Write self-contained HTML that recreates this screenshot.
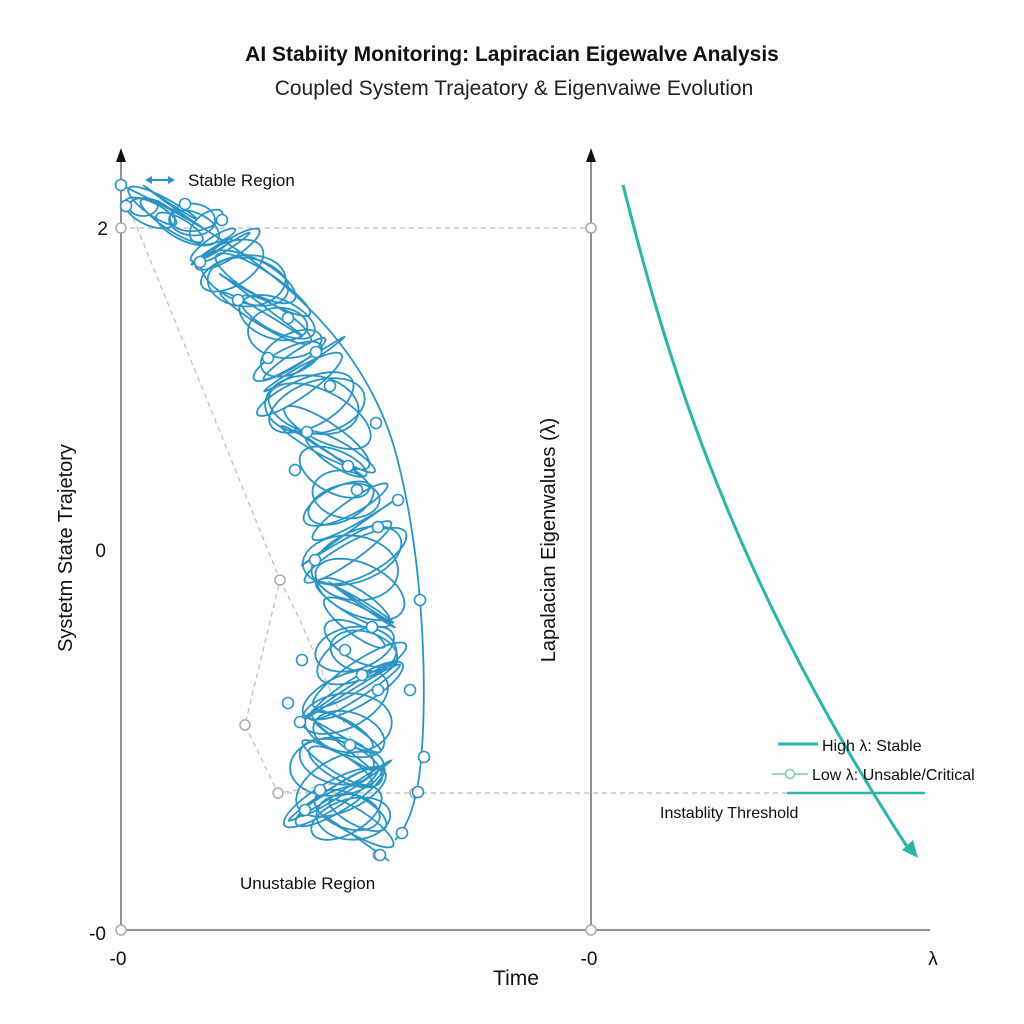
<!DOCTYPE html>
<html><head><meta charset="utf-8"><style>
body{margin:0;background:#fff;}
svg{display:block;font-family:"Liberation Sans",sans-serif;}
</style></head><body>
<svg id="s" width="1024" height="1024" viewBox="0 0 1024 1024">
<rect width="1024" height="1024" fill="#fdfdfd"/>
<text x="512" y="61" text-anchor="middle" font-size="21" font-weight="bold" fill="#111">AI Stabiity Monitoring: Lapiracian Eigewalve Analysis</text>
<text x="514" y="95" text-anchor="middle" font-size="21" fill="#222">Coupled System Trajeatory &amp; Eigenvaiwe Evolution</text>
<g stroke="#555" stroke-width="1.3">
<line x1="121" y1="160" x2="121" y2="930"/><line x1="121" y1="930" x2="591" y2="930"/>
<line x1="591" y1="160" x2="591" y2="930"/><line x1="591" y1="930" x2="930" y2="930"/>
</g>
<polygon points="116,162 121,148 126,162" fill="#111"/>
<polygon points="586,162 591,148 596,162" fill="#111"/>
<g stroke="#bbb" stroke-width="1.2" stroke-dasharray="5,4" fill="none">
<line x1="121" y1="228" x2="591" y2="228"/>
<polyline points="130,210 280,580 245,725 278,793 360,780"/>
<polyline points="280,580 300,620 360,760"/>
<line x1="278" y1="793" x2="790" y2="793"/>
</g>
<g fill="#fff" stroke="#aaa" stroke-width="1.5">
<circle cx="121" cy="228" r="5"/><circle cx="591" cy="228" r="5"/><circle cx="280" cy="580" r="5"/>
<circle cx="245" cy="725" r="5"/><circle cx="278" cy="793" r="5"/><circle cx="415" cy="793" r="5"/>
<circle cx="121" cy="930" r="5"/><circle cx="591" cy="930" r="5"/><circle cx="378" cy="855" r="5"/>
</g>
<g id="traj" fill="none" stroke="#2a95c5" stroke-width="1.8"></g>
<path d="M121,185 C260,250 360,330 395,450 C425,560 428,700 420,770 C415,810 405,830 395,840" fill="none" stroke="#2a95c5" stroke-width="1.8"/>
<g id="dots" fill="#fff" stroke="#2a95c5" stroke-width="1.6"></g>
<line x1="148" y1="180" x2="172" y2="180" stroke="#2a95c5" stroke-width="2"/>
<polygon points="145,180 152,176 152,184" fill="#2a95c5"/><polygon points="175,180 168,176 168,184" fill="#2a95c5"/>
<text x="188" y="186" font-size="17" fill="#111">Stable Region</text>
<text x="240" y="889" font-size="17" fill="#111">Unustable Region</text>
<text x="108" y="235" font-size="19" text-anchor="end" fill="#111">2</text>
<text x="106" y="557" font-size="19" text-anchor="end" fill="#111">0</text>
<text x="106" y="940" font-size="19" text-anchor="end" fill="#111">-0</text>
<text x="118" y="965" font-size="19" text-anchor="middle" fill="#111">-0</text>
<text x="589" y="965" font-size="19" text-anchor="middle" fill="#111">-0</text>
<text x="933" y="965" font-size="19" text-anchor="middle" fill="#111">λ</text>
<text x="516" y="985" font-size="21" text-anchor="middle" fill="#111">Time</text>
<text transform="translate(72,548) rotate(-90)" font-size="20" text-anchor="middle" fill="#111">Systetm State Trajetory</text>
<text transform="translate(555,540) rotate(-90)" font-size="20" text-anchor="middle" fill="#111">Lapalacian Eigenwalues (λ)</text>
<path d="M623,185 C660,330 720,560 908,848" fill="none" stroke="#2ab5a8" stroke-width="3"/>
<polygon points="918,858 902,850 913,840" fill="#2ab5a8"/>
<line x1="778" y1="744" x2="818" y2="744" stroke="#2ab5a8" stroke-width="3"/>
<text x="822" y="751" font-size="16" fill="#111">High λ: Stable</text>
<line x1="772" y1="774" x2="808" y2="774" stroke="#7cc9c2" stroke-width="1.5"/>
<circle cx="790" cy="774" r="4.5" fill="#fff" stroke="#7cc9c2" stroke-width="1.5"/>
<text x="812" y="780" font-size="16" fill="#111">Low λ: Unsable/Critical</text>
<line x1="787" y1="793" x2="925" y2="793" stroke="#2ab5a8" stroke-width="2.5"/>
<text x="660" y="818" font-size="16" fill="#111">Instablity Threshold</text>
</svg>
<script>
var c=[[140,200],[205,230],[258,290],[300,370],[335,460],[355,560],[360,650],[345,730],[335,790],[360,830]];
function P(t){var n=c.length-1,i=Math.min(Math.floor(t*n),n-1),f=t*n-i;return [c[i][0]+(c[i+1][0]-c[i][0])*f,c[i][1]+(c[i+1][1]-c[i][1])*f];}
var d="",N=2400;
for(var k=0;k<=N;k++){var t=k/N,p=P(t),a=18+22*Math.min(1,t*4)+8*Math.sin(t*37),w=t*2*Math.PI*75;
var x=p[0]+a*Math.cos(w)+6*Math.sin(w*0.37),y=p[1]+a*0.6*Math.sin(w*1.07)+10*Math.sin(w*0.23);d+=(k?"L":"M")+x.toFixed(1)+","+y.toFixed(1);}
document.getElementById("traj").innerHTML='<path d="'+d+'"/>';
var pts=[[121,185],[126,206],[185,204],[222,220],[200,262],[238,300],[288,318],[316,352],[268,358],[330,386],[307,432],[376,423],[295,470],[348,466],[357,490],[398,500],[378,527],[420,600],[315,560],[372,627],[345,650],[302,660],[362,675],[378,690],[410,690],[288,703],[300,722],[350,745],[424,757],[320,790],[418,792],[305,810],[402,833],[380,855]];
var s="";pts.forEach(function(p){s+='<circle cx="'+p[0]+'" cy="'+p[1]+'" r="5.5"/>';});
document.getElementById("dots").innerHTML=s;
</script>
</body></html>
